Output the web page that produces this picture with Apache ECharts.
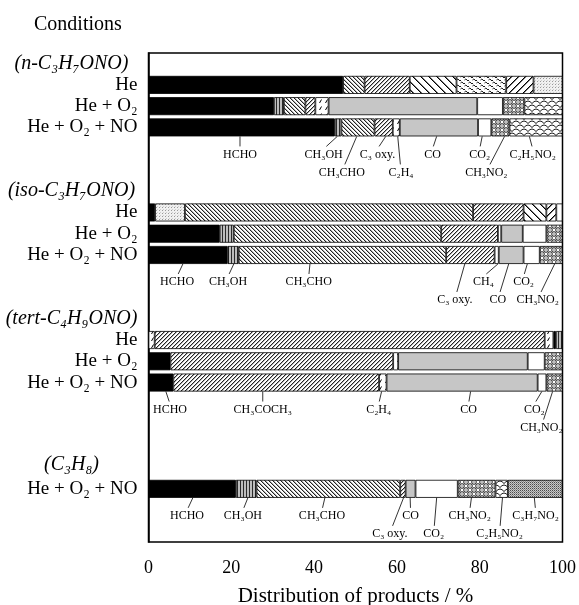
<!DOCTYPE html>
<html>
<head>
<meta charset="utf-8">
<script src="https://cdn.jsdelivr.net/npm/echarts@6/dist/echarts.min.js"></script>
<style>
  html, body { margin: 0; padding: 0; background: #fff; }
  #main { width: 579px; height: 605px; }
</style>
</head>
<body>
<div id="main"></div>
<script>
var FONT = '"Liberation Serif", "DejaVu Serif", serif';

// y categories (one slot per row, blanks are spacers)
var categories = ['(n-C₃H₇ONO)', 'He', 'He + O₂', 'He + O₂ + NO', '', '',
    '(iso-C₃H₇ONO)', 'He', 'He + O₂', 'He + O₂ + NO', '', '',
    '(tert-C₄H₉ONO)', 'He', 'He + O₂', 'He + O₂ + NO', '', '', '',
    '(C₃H₈)', 'He + O₂ + NO', '', ''];
var headerRows = [0, 6, 12, 19];

// product segments of each bar, left to right (%)
var n_He_kind = ['HCHO', 'CH3CHO', 'C3oxy', 'wideBack', 'wavy', 'wideFwd', 'dotsLight'];
var n_He_val = [47.0, 5.2, 10.9, 11.3, 12.0, 6.6, 7.0];
var n_O2_kind = ['HCHO', 'CH3OH', 'CH3CHO', 'C3oxy', 'C2H4', 'CO', 'CO2', 'CH3NO2', 'C2H5NO2'];
var n_O2_val = [30.3, 2.4, 5.2, 2.4, 3.2, 35.9, 6.2, 5.2, 9.2];
var n_NO_kind = ['HCHO', 'CH3OH', 'CH3CHO', 'C3oxy', 'C2H4', 'CO', 'CO2', 'CH3NO2', 'C2H5NO2'];
var n_NO_val = [45.0, 1.6, 8.0, 4.4, 1.7, 18.9, 3.2, 4.4, 12.8];

var iso_He_kind = ['HCHO', 'dotsLight', 'CH3CHO', 'C3oxy', 'wideBack', 'wideFwd', 'CO2'];
var iso_He_val = [1.6, 7.2, 69.6, 12.2, 5.5, 2.4, 1.5];
var iso_O2_kind = ['HCHO', 'CH3OH', 'CH3CHO', 'C3oxy', 'CH4', 'CO', 'CO2', 'CH3NO2'];
var iso_O2_val = [17.2, 3.4, 50.1, 13.7, 0.8, 5.2, 5.7, 3.9];
var iso_NO_kind = ['HCHO', 'CH3OH', 'CH3CHO', 'C3oxy', 'CH4', 'CO', 'CO2', 'CH3NO2'];
var iso_NO_val = [19.1, 2.7, 50.1, 11.7, 1.0, 6.0, 3.9, 5.5];

var tert_He_kind = ['C2H4', 'CH3COCH3', 'C2H4', 'HCHO', 'CH3OH'];
var tert_He_val = [1.5, 94.2, 2.1, 0.6, 1.6];
var tert_O2_kind = ['HCHO', 'CH3COCH3', 'C2H4', 'CO', 'CO2', 'CH3NO2'];
var tert_O2_val = [5.3, 53.8, 1.2, 31.3, 4.1, 4.3];
var tert_NO_kind = ['HCHO', 'CH3COCH3', 'C2H4', 'CO', 'CO2', 'CH3NO2'];
var tert_NO_val = [6.0, 49.7, 1.8, 36.5, 2.1, 3.9];

var c3h8_NO_kind = ['HCHO', 'CH3OH', 'CH3CHO', 'C3oxy', 'CO', 'CO2', 'CH3NO2', 'C2H5NO2', 'C3H7NO2'];
var c3h8_NO_val = [21.1, 5.0, 34.7, 1.3, 2.4, 10.2, 9.1, 3.0, 13.2];

// labels under the bars: [text, pointed %, text %, row, second line?]
var notes_n = [
    ['HCHO', 22.1, 22.1, 3, 0], ['CH₃OH', 45.6, 42.3, 3, 0], ['CH₃CHO', 50.3, 46.7, 3, 1],
    ['C₃ oxy.', 57.3, 55.3, 3, 0], ['C₂H₄', 60.2, 61.0, 3, 1], ['CO', 69.6, 68.6, 3, 0],
    ['CO₂', 80.6, 80.0, 3, 0], ['CH₃NO₂', 86.0, 81.6, 3, 1], ['C₂H₅NO₂', 92.0, 92.8, 3, 0]
];
var notes_iso = [
    ['HCHO', 8.3, 6.9, 9, 0], ['CH₃OH', 20.6, 19.2, 9, 0], ['CH₃CHO', 39.0, 38.7, 9, 0],
    ['C₃ oxy.', 76.4, 74.0, 9, 1], ['CH₄', 84.4, 80.9, 9, 0], ['CO', 87.0, 84.4, 9, 1],
    ['CO₂', 91.5, 90.6, 9, 0], ['CH₃NO₂', 98.1, 94.0, 9, 1]
];
var notes_tert = [
    ['HCHO', 4.2, 5.2, 15, 0], ['CH₃COCH₃', 27.6, 27.6, 15, 0], ['C₂H₄', 56.3, 55.6, 15, 0],
    ['CO', 77.8, 77.3, 15, 0], ['CO₂', 95.0, 93.2, 15, 0], ['CH₃NO₂', 97.6, 94.9, 15, 1]
];
var notes_c3h8 = [
    ['HCHO', 10.7, 9.3, 20, 0], ['CH₃OH', 24.0, 22.8, 20, 0], ['CH₃CHO', 42.6, 41.9, 20, 0],
    ['CO', 63.2, 63.3, 20, 0], ['C₃ oxy.', 61.6, 58.3, 20, 1], ['CO₂', 69.6, 68.9, 20, 1],
    ['CH₃NO₂', 78.0, 77.6, 20, 0], ['C₂H₅NO₂', 85.5, 84.8, 20, 1], ['C₃H₇NO₂', 93.2, 93.5, 20, 0]
];

// ---- fill patterns ----
function tile(w, h, bg, draw) {
    var c = document.createElement('canvas');
    c.width = w; c.height = h;
    var g = c.getContext('2d');
    g.fillStyle = bg; g.fillRect(0, 0, w, h);
    g.fillStyle = '#000'; g.strokeStyle = '#000'; g.lineWidth = 1;
    draw(g, w, h);
    return { image: c, repeat: 'repeat' };
}
function diag(s, dir, ink, halo) {
    return tile(s, s, '#fff', function (g) {
        for (var i = 0; i < s; i++) {
            var x = dir > 0 ? i : s - 1 - i;
            g.fillStyle = halo; g.fillRect((x + 1) % s, i, 1, 1);
            g.fillStyle = ink; g.fillRect(x, i, 1, 1);
        }
    });
}

var fills = {
    HCHO: '#000',
    CH3OH: tile(3, 1, '#bdbdbd', function (g) { g.fillStyle = '#2a2a2a'; g.fillRect(0, 0, 1, 1); }),
    CH3CHO: diag(4, 1, '#222', '#b0b0b0'),
    C3oxy: diag(4, -1, '#222', '#b0b0b0'),
    CH3COCH3: diag(4, -1, '#222', '#b0b0b0'),
    wideBack: diag(8, 1, '#000', '#777'),
    wideFwd: diag(7, -1, '#000', '#777'),
    CO: '#c6c6c6',
    CO2: '#fff',
    CH4: '#fff',
    C2H4: tile(6, 7, '#fff', function (g) {
        g.beginPath(); g.moveTo(1.5, 5); g.lineTo(3.5, 1.5); g.stroke();
    }),
    CH3NO2: tile(8, 8, '#fff', function (g) {
        g.lineWidth = 0.9;
        [[2, 2], [6, 6]].forEach(function (c) {
            [-8, 0, 8].forEach(function (dx) {
                [-8, 0, 8].forEach(function (dy) {
                    g.beginPath(); g.arc(c[0] + dx, c[1] + dy, 2.3, 0, Math.PI * 2); g.stroke();
                    g.fillRect(c[0] + dx - 0.5, c[1] + dy - 0.5, 1, 1);
                });
            });
        });
    }),
    C2H5NO2: tile(8, 8, '#fff', function (g) {
        g.lineWidth = 0.9;
        [[0, 3.5], [4, 7.5], [-4, 7.5], [4, -0.5], [-4, -0.5]].forEach(function (o) {
            g.beginPath(); g.moveTo(o[0], o[1]); g.quadraticCurveTo(o[0] + 4, o[1] - 5, o[0] + 8, o[1]); g.stroke();
        });
    }),
    wavy: tile(8, 6, '#fff', function (g) {
        g.lineWidth = 0.9;
        g.beginPath(); g.moveTo(0.5, 2); g.quadraticCurveTo(2, 0, 3, 2); g.quadraticCurveTo(4, 4, 5, 2); g.stroke();
        g.beginPath(); g.moveTo(4.5, 5); g.quadraticCurveTo(6, 3, 7, 5); g.quadraticCurveTo(8, 7, 9, 5); g.stroke();
        g.beginPath(); g.moveTo(-3.5, 5); g.quadraticCurveTo(-2, 3, -1, 5); g.quadraticCurveTo(0, 7, 1, 5); g.stroke();
    }),
    C3H7NO2: tile(2, 2, '#c8c8c8', function (g) {
        g.fillStyle = '#4a4a4a'; g.fillRect(0, 0, 1, 1);
        g.fillStyle = '#8a8a8a'; g.fillRect(1, 1, 1, 1);
    }),
    dotsLight: tile(3, 3, '#f0f0f0', function (g) {
        g.fillStyle = '#9a9a9a'; g.fillRect(0, 0, 1, 1);
        g.fillStyle = '#cfcfcf'; g.fillRect(1, 2, 1, 1);
    })
};

// row index -> segments
var barRows = {
    1: [n_He_kind, n_He_val], 2: [n_O2_kind, n_O2_val], 3: [n_NO_kind, n_NO_val],
    7: [iso_He_kind, iso_He_val], 8: [iso_O2_kind, iso_O2_val], 9: [iso_NO_kind, iso_NO_val],
    13: [tert_He_kind, tert_He_val], 14: [tert_O2_kind, tert_O2_val], 15: [tert_NO_kind, tert_NO_val],
    20: [c3h8_NO_kind, c3h8_NO_val]
};

var series = [];
for (var s = 0; s < 9; s++) {
    series.push({
        type: 'bar',
        stack: 'all',
        barWidth: 18,
        itemStyle: { borderColor: '#000', borderWidth: 0.8 },
        data: categories.map(function (c, i) {
            var r = barRows[i];
            if (!r || s >= r[1].length) return '-';
            return { value: r[1][s], itemStyle: { color: fills[r[0][s]] } };
        })
    });
}

var notes = notes_n.concat(notes_iso, notes_tert, notes_c3h8);
series.push({
    type: 'custom',
    z: 5,
    encode: { x: [0, 1], y: 2 },
    data: notes.map(function (n) { return [n[1], n[2], n[3], n[4]]; }),
    renderItem: function (params, api) {
        var p = api.coord([api.value(0), api.value(2)]);
        var t = api.coord([api.value(1), api.value(2)]);
        var y0 = p[1] + 9;
        var ty = y0 + (api.value(3) ? 36 : 18);
        var ex = t[0] + (p[0] - t[0]) * 0.2;
        return {
            type: 'group',
            children: [{
                type: 'line',
                shape: { x1: p[0], y1: y0, x2: ex, y2: ty - 8 },
                style: { stroke: '#000', lineWidth: 0.8 }
            }, {
                type: 'text',
                style: {
                    text: notes[params.dataIndex][0],
                    x: t[0], y: ty,
                    align: 'center', verticalAlign: 'middle',
                    fill: '#000', font: '12px ' + FONT
                }
            }]
        };
    }
});

var chart = echarts.init(document.getElementById('main'));
chart.setOption({
    animation: false,
    backgroundColor: '#fff',
    title: {
        text: 'Conditions', left: 29, top: 10,
        textStyle: { fontFamily: FONT, fontWeight: 'normal', fontSize: 20, color: '#000' }
    },
    grid: {
        left: 148.5, right: 16.5, top: 53, bottom: 63,
        outerBoundsMode: 'none', containLabel: false,
        show: true, borderColor: '#000', borderWidth: 1.5
    },
    xAxis: {
        type: 'value', min: 0, max: 100, interval: 20,
        splitLine: { show: false },
        axisLine: { lineStyle: { color: '#000', width: 1.5 } },
        axisTick: { inside: true, length: 6, lineStyle: { color: '#000', width: 1.2 } },
        axisLabel: { margin: 17, fontFamily: FONT, fontSize: 18, color: '#000' },
        name: 'Distribution of products / %',
        nameLocation: 'middle', nameGap: 44,
        nameTextStyle: { fontFamily: FONT, fontSize: 21, color: '#000' }
    },
    yAxis: {
        type: 'category', inverse: true, data: categories,
        axisLine: { lineStyle: { color: '#000', width: 1.5 } },
        axisTick: { show: false },
        axisLabel: {
            interval: 0, margin: 11, fontFamily: FONT, fontSize: 19, color: '#000',
            formatter: function (v, i) {
                if (headerRows.indexOf(i) < 0) return v;
                return (i === 19 ? '{h2|' : '{h|') + v + '}';
            },
            rich: {
                h: { fontFamily: FONT, fontStyle: 'italic', fontSize: 20, width: 132, align: 'center', color: '#000' },
                h2: { fontFamily: FONT, fontStyle: 'italic', fontSize: 20, width: 132, align: 'center', color: '#000', padding: [0, 0, 5, 0] }
            }
        }
    },
    series: series
});
</script>
</body>
</html>
